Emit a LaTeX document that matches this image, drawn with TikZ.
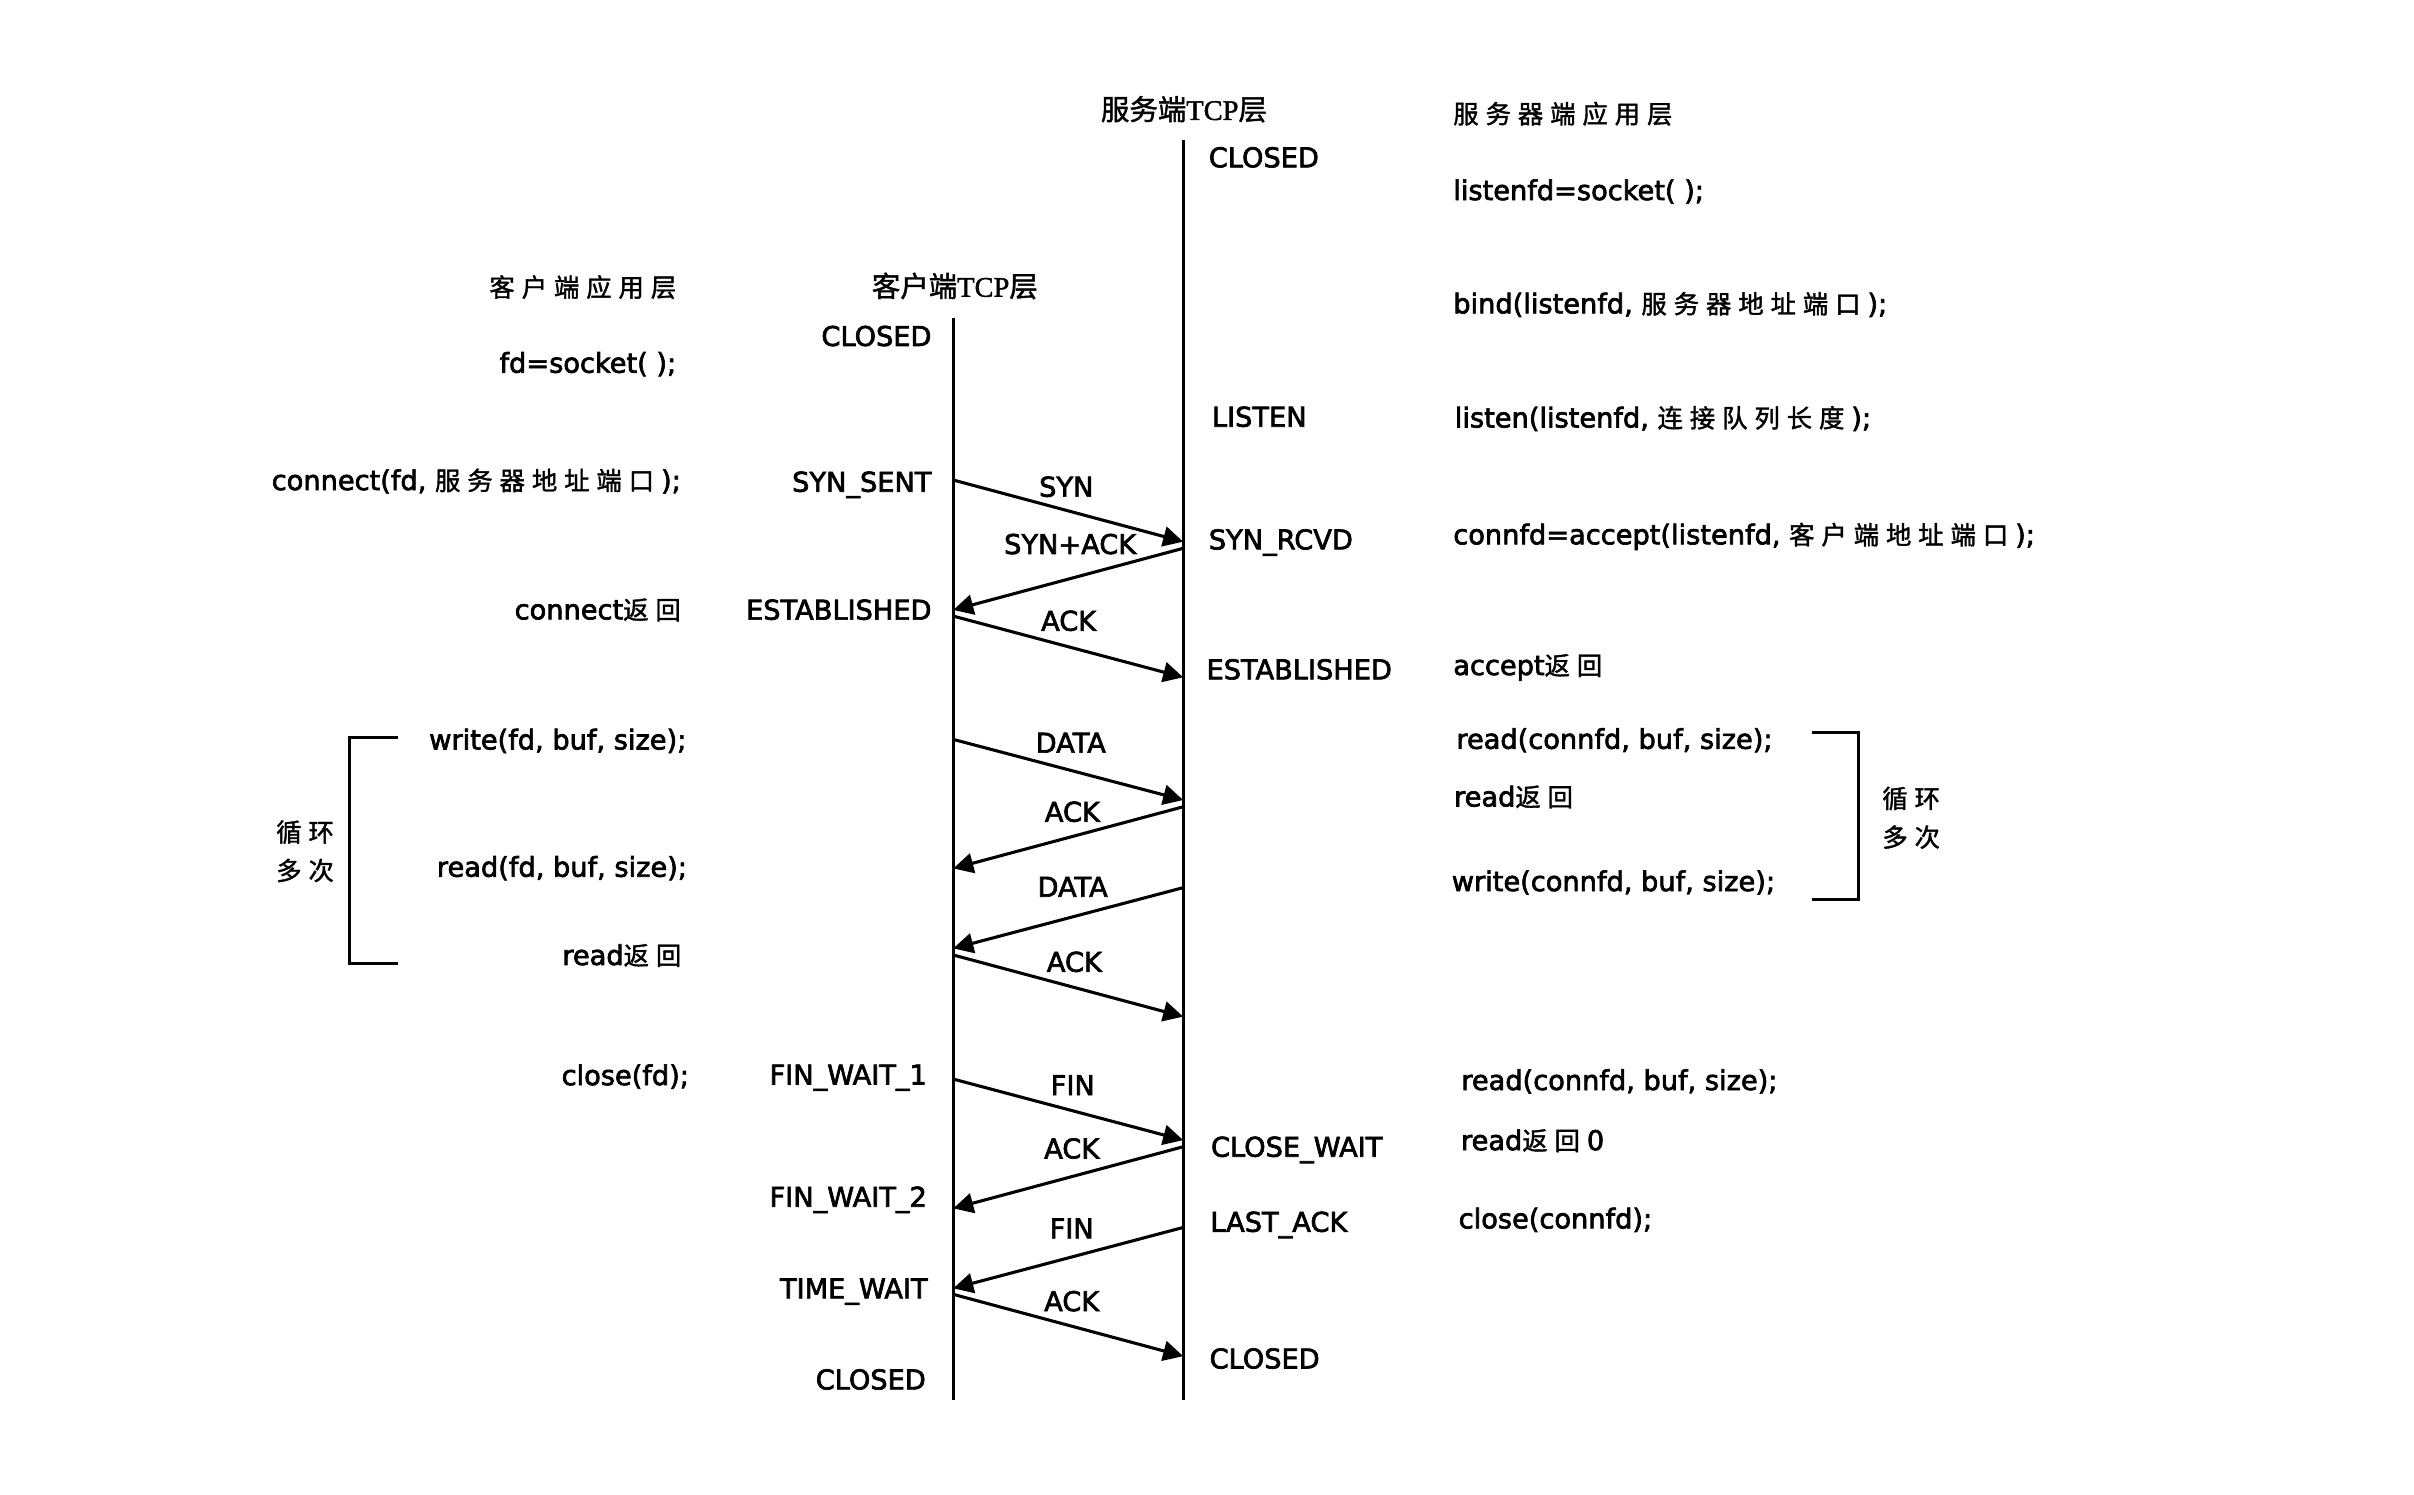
\documentclass[tikz,border=0pt]{standalone}
\usepackage{fontspec}
\setmainfont[FakeBold=2.5]{DejaVu Sans}
\newfontfamily\cjkfam[FakeBold=1.5]{Noto Sans CJK SC}
\newfontfamily\tcpfam[FakeBold=1.5]{Liberation Serif}
\usetikzlibrary{arrows.meta}
\newlength\cjkgap \setlength\cjkgap{4.5pt}
\newcommand\cjkf{\cjkfam\fontsize{16.5}{18}\selectfont}
\newcommand\cjs[1]{\cjsfirst#1\relax}
\def\cjsfirst#1{{\cjkf#1}\cjsrest}
\def\cjsrest#1{\ifx\relax#1\else\hspace{\cjkgap}{\cjkf#1}\expandafter\cjsrest\fi}
\newcommand\gap{\hspace{\cjkgap}}
\tikzset{
  lbl/.style={inner sep=0pt, text height=13pt, text depth=0pt, font=\fontsize{17.7}{20}\selectfont},
  life/.style={line width=2pt},
  msg/.style={line width=2pt, -{Triangle[length=13pt,width=13pt]}},
  brk/.style={line width=2pt},
}
\begin{document}
\begin{tikzpicture}[x=1pt,y=-1pt]
\useasboundingbox (0,0) rectangle (1570,971.7);

% titles
\node[lbl] (tSrvTCP) at (770,71.5) {{\cjkfam\fontsize{18.5}{20}\selectfont 服务端{\tcpfam TCP}层}};
\node[lbl,anchor=west] (tSrvApp) at (945,73.7) {\cjs{服务器端应用层}};
\node[lbl,anchor=east] (tCliApp) at (440,186.5) {\cjs{客户端应用层}};
\node[lbl] (tCliTCP) at (621,186.5) {{\cjkfam\fontsize{18.5}{20}\selectfont 客户端{\tcpfam TCP}层}};

% lifelines
\coordinate (cTop) at (620,206.8);
\coordinate (cBot) at (620,910.6);
\coordinate (sTop) at (769.5,91);
\coordinate (sBot) at (769.5,910.6);
\draw[life] (cTop) -- (cBot);
\draw[life] (sTop) -- (sBot);

% client TCP states
\node[lbl,anchor=east] (cClosedA) at (606,218.5) {CLOSED};
\node[lbl,anchor=east] (cSynSent) at (606,313.3) {SYN\_SENT};
\node[lbl,anchor=east] (cEstab) at (606,396.5) {ESTABLISHED};
\node[lbl,anchor=east] (cFin1) at (603,698.8) {FIN\_WAIT\_1};
\node[lbl,anchor=east] (cFin2) at (603,778.3) {FIN\_WAIT\_2};
\node[lbl,anchor=east] (cTimeW) at (603.5,837.9) {TIME\_WAIT};
\node[lbl,anchor=east] (cClosedB) at (602.3,897.1) {CLOSED};

% server TCP states
\node[lbl,anchor=west] (sClosedA) at (786,102.3) {CLOSED};
\node[lbl,anchor=west] (sListen) at (788,271) {LISTEN};
\node[lbl,anchor=west] (sSynRcvd) at (786,350.8) {SYN\_RCVD};
\node[lbl,anchor=west] (sEstab) at (784.5,435.3) {ESTABLISHED};
\node[lbl,anchor=west] (sCloseW) at (787.4,745.8) {CLOSE\_WAIT};
\node[lbl,anchor=west] (sLastAck) at (787,794.6) {LAST\_ACK};
\node[lbl,anchor=west] (sClosedB) at (786.5,883.5) {CLOSED};

% client application
\node[lbl,anchor=east] (aSock) at (440,235.9) {fd=socket( );};
\node[lbl,anchor=east] (aConn) at (443,312.2) {connect(fd, \cjs{服务器地址端口}\gap);};
\node[lbl,anchor=east] (aConnR) at (443,396.3) {connect\cjs{返回}};
\node[lbl,anchor=east] (aWrite) at (446.6,480.9) {write(fd, buf, size);};
\node[lbl,anchor=east] (aRead) at (447,563.7) {read(fd, buf, size);};
\node[lbl,anchor=east] (aReadR) at (443.3,621.1) {read\cjs{返回}};
\node[lbl,anchor=east] (aClose) at (448.3,699.2) {close(fd);};
\node[lbl] (aLoop1) at (198.4,540.9) {\cjs{循环}};
\node[lbl] (aLoop2) at (198.4,565.9) {\cjs{多次}};
\coordinate (bL1) at (258.7,479.8);
\coordinate (bL2) at (227.6,479.8);
\coordinate (bL3) at (227.6,626.6);
\coordinate (bL4) at (258.7,626.6);
\draw[brk] (bL1) -- (bL2) -- (bL3) -- (bL4);

% server application
\node[lbl,anchor=west] (bSock) at (945,123.6) {listenfd=socket( );};
\node[lbl,anchor=west] (bBind) at (945,197.3) {bind(listenfd, \cjs{服务器地址端口}\gap);};
\node[lbl,anchor=west] (bListen) at (946,271.5) {listen(listenfd, \cjs{连接队列长度}\gap);};
\node[lbl,anchor=west] (bAccept) at (945,347.5) {connfd=accept(listenfd, \cjs{客户端地址端口}\gap);};
\node[lbl,anchor=west] (bAcceptR) at (945,432.5) {accept\cjs{返回}};
\node[lbl,anchor=west] (bRead) at (947,480.5) {read(connfd, buf, size);};
\node[lbl,anchor=west] (bReadR) at (945.5,518) {read\cjs{返回}};
\node[lbl,anchor=west] (bWrite) at (944,573) {write(connfd, buf, size);};
\node[lbl,anchor=west] (bLoop1) at (1224,519) {\cjs{循环}};
\node[lbl,anchor=west] (bLoop2) at (1224,544.2) {\cjs{多次}};
\node[lbl,anchor=west] (bRead2) at (950.2,702.4) {read(connfd, buf, size);};
\node[lbl,anchor=west] (bReadR0) at (950,741.5) {read\cjs{返回}\gap 0};
\node[lbl,anchor=west] (bClose) at (948.5,792.4) {close(connfd);};
\coordinate (bR1) at (1178.3,476.3);
\coordinate (bR2) at (1208.7,476.3);
\coordinate (bR3) at (1208.7,584.9);
\coordinate (bR4) at (1178.3,584.9);
\draw[brk] (bR1) -- (bR2) -- (bR3) -- (bR4);

% message end points
\coordinate (c1) at (620,312.2);   \coordinate (s1) at (769.5,352.3);
\coordinate (s2) at (769.5,356.6); \coordinate (c2) at (620,396.7);
\coordinate (c3) at (620,400.7);   \coordinate (s3) at (769.5,440.5);
\coordinate (c4) at (620,480.9);   \coordinate (s4) at (769.5,520.3);
\coordinate (s5) at (769.5,524.7); \coordinate (c5) at (620,564.8);
\coordinate (s6) at (769.5,577.3); \coordinate (c6) at (620,616.8);
\coordinate (c7) at (620,621.1);   \coordinate (s7) at (769.5,661.2);
\coordinate (c8) at (620,701.8);   \coordinate (s8) at (769.5,741.5);
\coordinate (s9) at (769.5,745.8); \coordinate (c9) at (620,785.9);
\coordinate (s10) at (769.5,798.3); \coordinate (c10) at (620,837.9);
\coordinate (c11) at (620,841.8);  \coordinate (s11) at (769.5,882);

\draw[msg] (c1) -- (s1);
\draw[msg] (s2) -- (c2);
\draw[msg] (c3) -- (s3);
\draw[msg] (c4) -- (s4);
\draw[msg] (s5) -- (c5);
\draw[msg] (s6) -- (c6);
\draw[msg] (c7) -- (s7);
\draw[msg] (c8) -- (s8);
\draw[msg] (s9) -- (c9);
\draw[msg] (s10) -- (c10);
\draw[msg] (c11) -- (s11);

% message labels
\node[lbl] (m1) at (693.5,316.5) {SYN};
\node[lbl] (m2) at (696,353.8) {SYN+ACK};
\node[lbl] (m3) at (695,403.7) {ACK};
\node[lbl] (m4) at (696.4,483) {DATA};
\node[lbl] (m5) at (697.4,527.9) {ACK};
\node[lbl] (m6) at (697.6,576.7) {DATA};
\node[lbl] (m7) at (698.7,625.5) {ACK};
\node[lbl] (m8) at (697.7,705.7) {FIN};
\node[lbl] (m9) at (697,746.9) {ACK};
\node[lbl] (m10) at (697,798.9) {FIN};
\node[lbl] (m11) at (697,846.2) {ACK};
\end{tikzpicture}
\end{document}
